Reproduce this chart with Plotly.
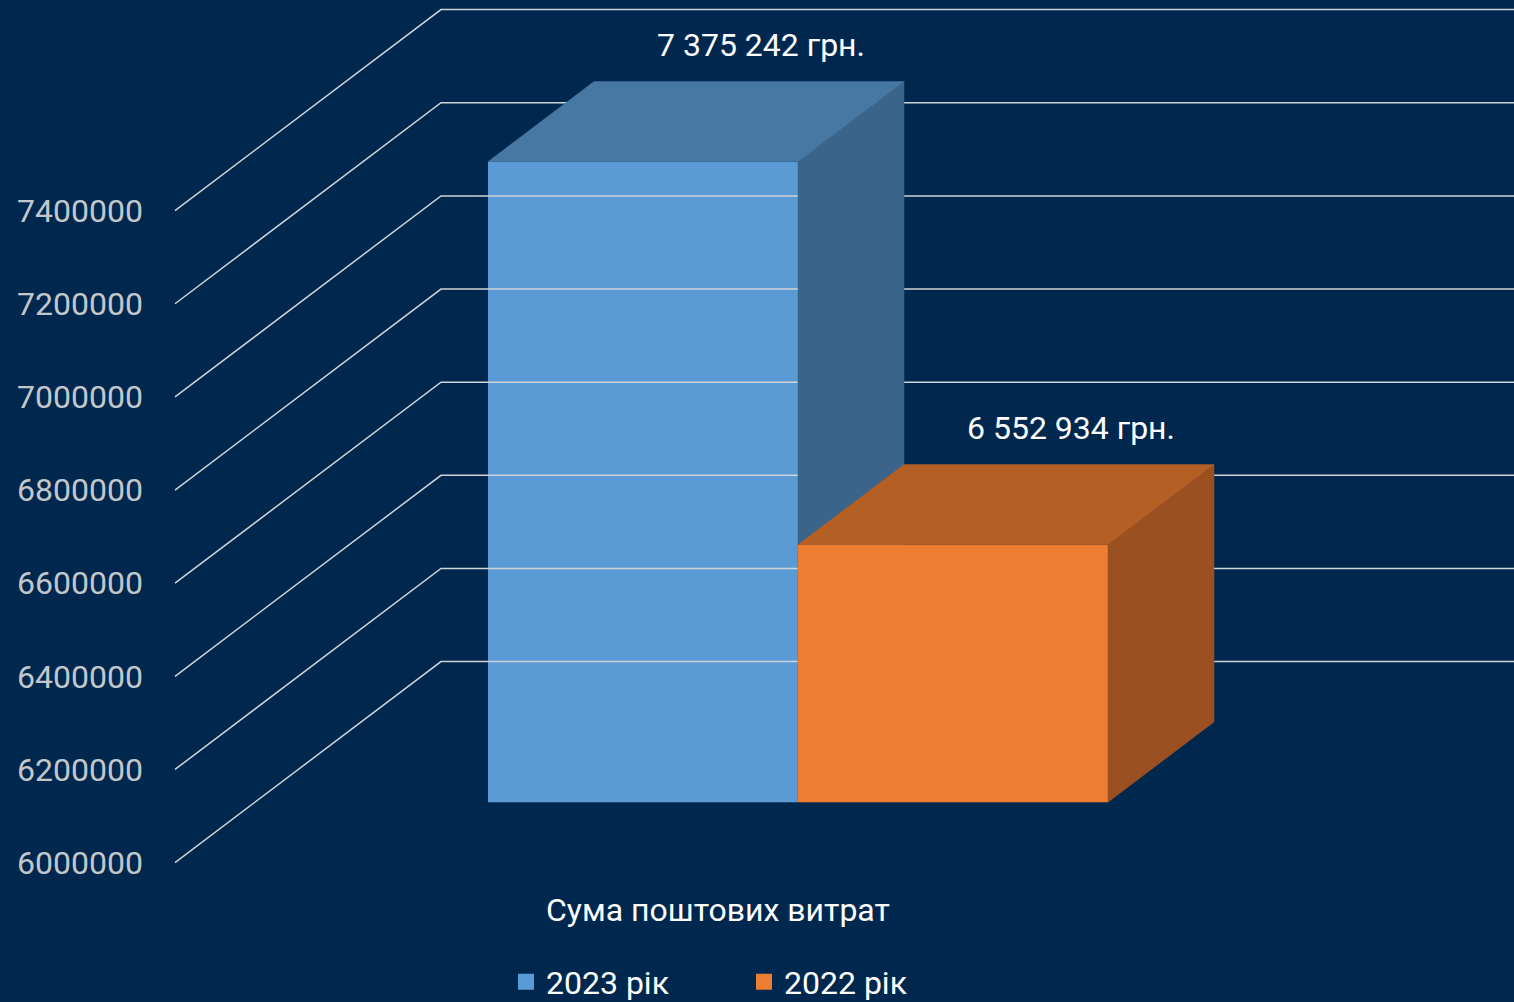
import plotly.graph_objects as go

# ---- data ----
categories = ["2023 рік", "2022 рік"]
values = [7375242, 6552934]
value_labels = ["7 375 242 грн.", "6 552 934 грн."]
tick_values = [6000000, 6200000, 6400000, 6600000, 6800000, 7000000, 7200000, 7400000]
tick_labels = [str(t) for t in tick_values]
group_label = "Сума поштових витрат"

# ---- style ----
front_colors = ["#5b9bd5", "#ed7d31"]
top_colors = ["#4778a4", "#b45f23"]
side_colors = ["#3a6489", "#9a5020"]
BG = "#00284f"
GRID = "#d0d3d8"
TICK_COLOR = "#c3c7cc"
FONT = "Roboto"

# ---- geometry (pseudo-3D projection) ----
W, H = 1514, 1002
ML = 148
Y_BASE = tick_values[0]
Y_BASE_PX = 862.6
PX_PER_VAL = 93.14 / 200000
FLOOR_X0 = 175
FLOOR_DEPTH = 266
SLOPE = 201 / 266
BAR_X0 = 488
BAR_W = 310
BAR_FRONT = 80
BAR_DEPTH = 106


def shift(d):
    """value-units vertical shift for a depth offset of d px."""
    return d * SLOPE / PX_PER_VAL


y_top = Y_BASE + Y_BASE_PX / PX_PER_VAL
y_bot = Y_BASE - (H - Y_BASE_PX) / PX_PER_VAL

fig = go.Figure()

# diagonal + back-wall gridlines
gx, gy = [], []
for t in tick_values:
    gx += [FLOOR_X0, FLOOR_X0 + FLOOR_DEPTH, W, None]
    gy += [t, t + shift(FLOOR_DEPTH), t + shift(FLOOR_DEPTH), None]
fig.add_trace(go.Scatter(x=gx, y=gy, mode="lines", line=dict(color=GRID, width=1.5),
                         showlegend=False, hoverinfo="skip", xaxis="x", yaxis="y"))

s1 = shift(BAR_FRONT)
s2 = shift(BAR_FRONT + BAR_DEPTH)
annotations = []
for i, (cat, v) in enumerate(zip(categories, values)):
    xa = "x" if i == 0 else "x2"
    ya = "y" if i == 0 else "y2"
    x0 = BAR_X0 + i * BAR_W
    x1 = x0 + BAR_W
    # side face
    fig.add_trace(go.Scatter(
        x=[x1, x1 + BAR_DEPTH, x1 + BAR_DEPTH, x1, x1],
        y=[v + s1, v + s2, Y_BASE + s2, Y_BASE + s1, v + s1],
        fill="toself", fillcolor=side_colors[i], mode="lines",
        line=dict(color=side_colors[i], width=0.5),
        showlegend=False, hoverinfo="skip", xaxis=xa, yaxis=ya))
    # top face
    fig.add_trace(go.Scatter(
        x=[x0, x1, x1 + BAR_DEPTH, x0 + BAR_DEPTH, x0],
        y=[v + s1, v + s1, v + s2, v + s2, v + s1],
        fill="toself", fillcolor=top_colors[i], mode="lines",
        line=dict(color=top_colors[i], width=0.5),
        showlegend=False, hoverinfo="skip", xaxis=xa, yaxis=ya))
    # front face (bar)
    fig.add_trace(go.Bar(
        x=[(x0 + x1) / 2], y=[v - Y_BASE], base=[Y_BASE + s1], width=[BAR_W],
        marker=dict(color=front_colors[i], line=dict(width=0)),
        showlegend=False, hoverinfo="skip", xaxis=xa, yaxis=ya))
    # legend entry
    fig.add_trace(go.Scatter(
        x=[None], y=[None], mode="markers", name=cat,
        marker=dict(symbol="square", size=20, color=front_colors[i]),
        xaxis=xa, yaxis=ya))
    annotations.append(dict(
        x=(x0 + x1) / 2 + BAR_DEPTH + 12, y=v + s2, xref=xa, yref=ya,
        text=value_labels[i], showarrow=False, yanchor="bottom", yshift=16,
        font=dict(family=FONT, size=32, color="white")))

annotations.append(dict(
    x=(BAR_X0 + BAR_X0 + len(values) * BAR_W) / 2 - BAR_FRONT, y=(H - 910) / H,
    xref="x", yref="paper", text=group_label, showarrow=False, yanchor="middle",
    font=dict(family=FONT, size=32, color="white")))

axis_common = dict(range=[ML, W], visible=False, fixedrange=True)
fig.update_layout(
    width=W, height=H,
    margin=dict(l=ML, r=0, t=0, b=0, autoexpand=False),
    paper_bgcolor=BG, plot_bgcolor=BG,
    barmode="overlay",
    font=dict(family=FONT, color="white"),
    xaxis=dict(**axis_common),
    xaxis2=dict(**axis_common, overlaying="x"),
    yaxis=dict(range=[y_bot, y_top], tickvals=tick_values, ticktext=tick_labels,
               tickfont=dict(family=FONT, size=32, color=TICK_COLOR),
               showgrid=False, zeroline=False, showline=False, ticks="",
               ticklabelstandoff=4, fixedrange=True),
    yaxis2=dict(range=[y_bot, y_top], visible=False, overlaying="y", fixedrange=True),
    legend=dict(orientation="h", x=(506 - ML) / (W - ML), xanchor="left",
                y=(H - 982) / H, yanchor="middle",
                font=dict(family=FONT, size=32, color="white"),
                entrywidth=193, entrywidthmode="pixels",
                bgcolor="rgba(0,0,0,0)"),
    annotations=annotations,
    showlegend=True,
)

fig.write_html("out.html", config={"displayModeBar": False},
               post_script="document.body.style.margin='0';")
